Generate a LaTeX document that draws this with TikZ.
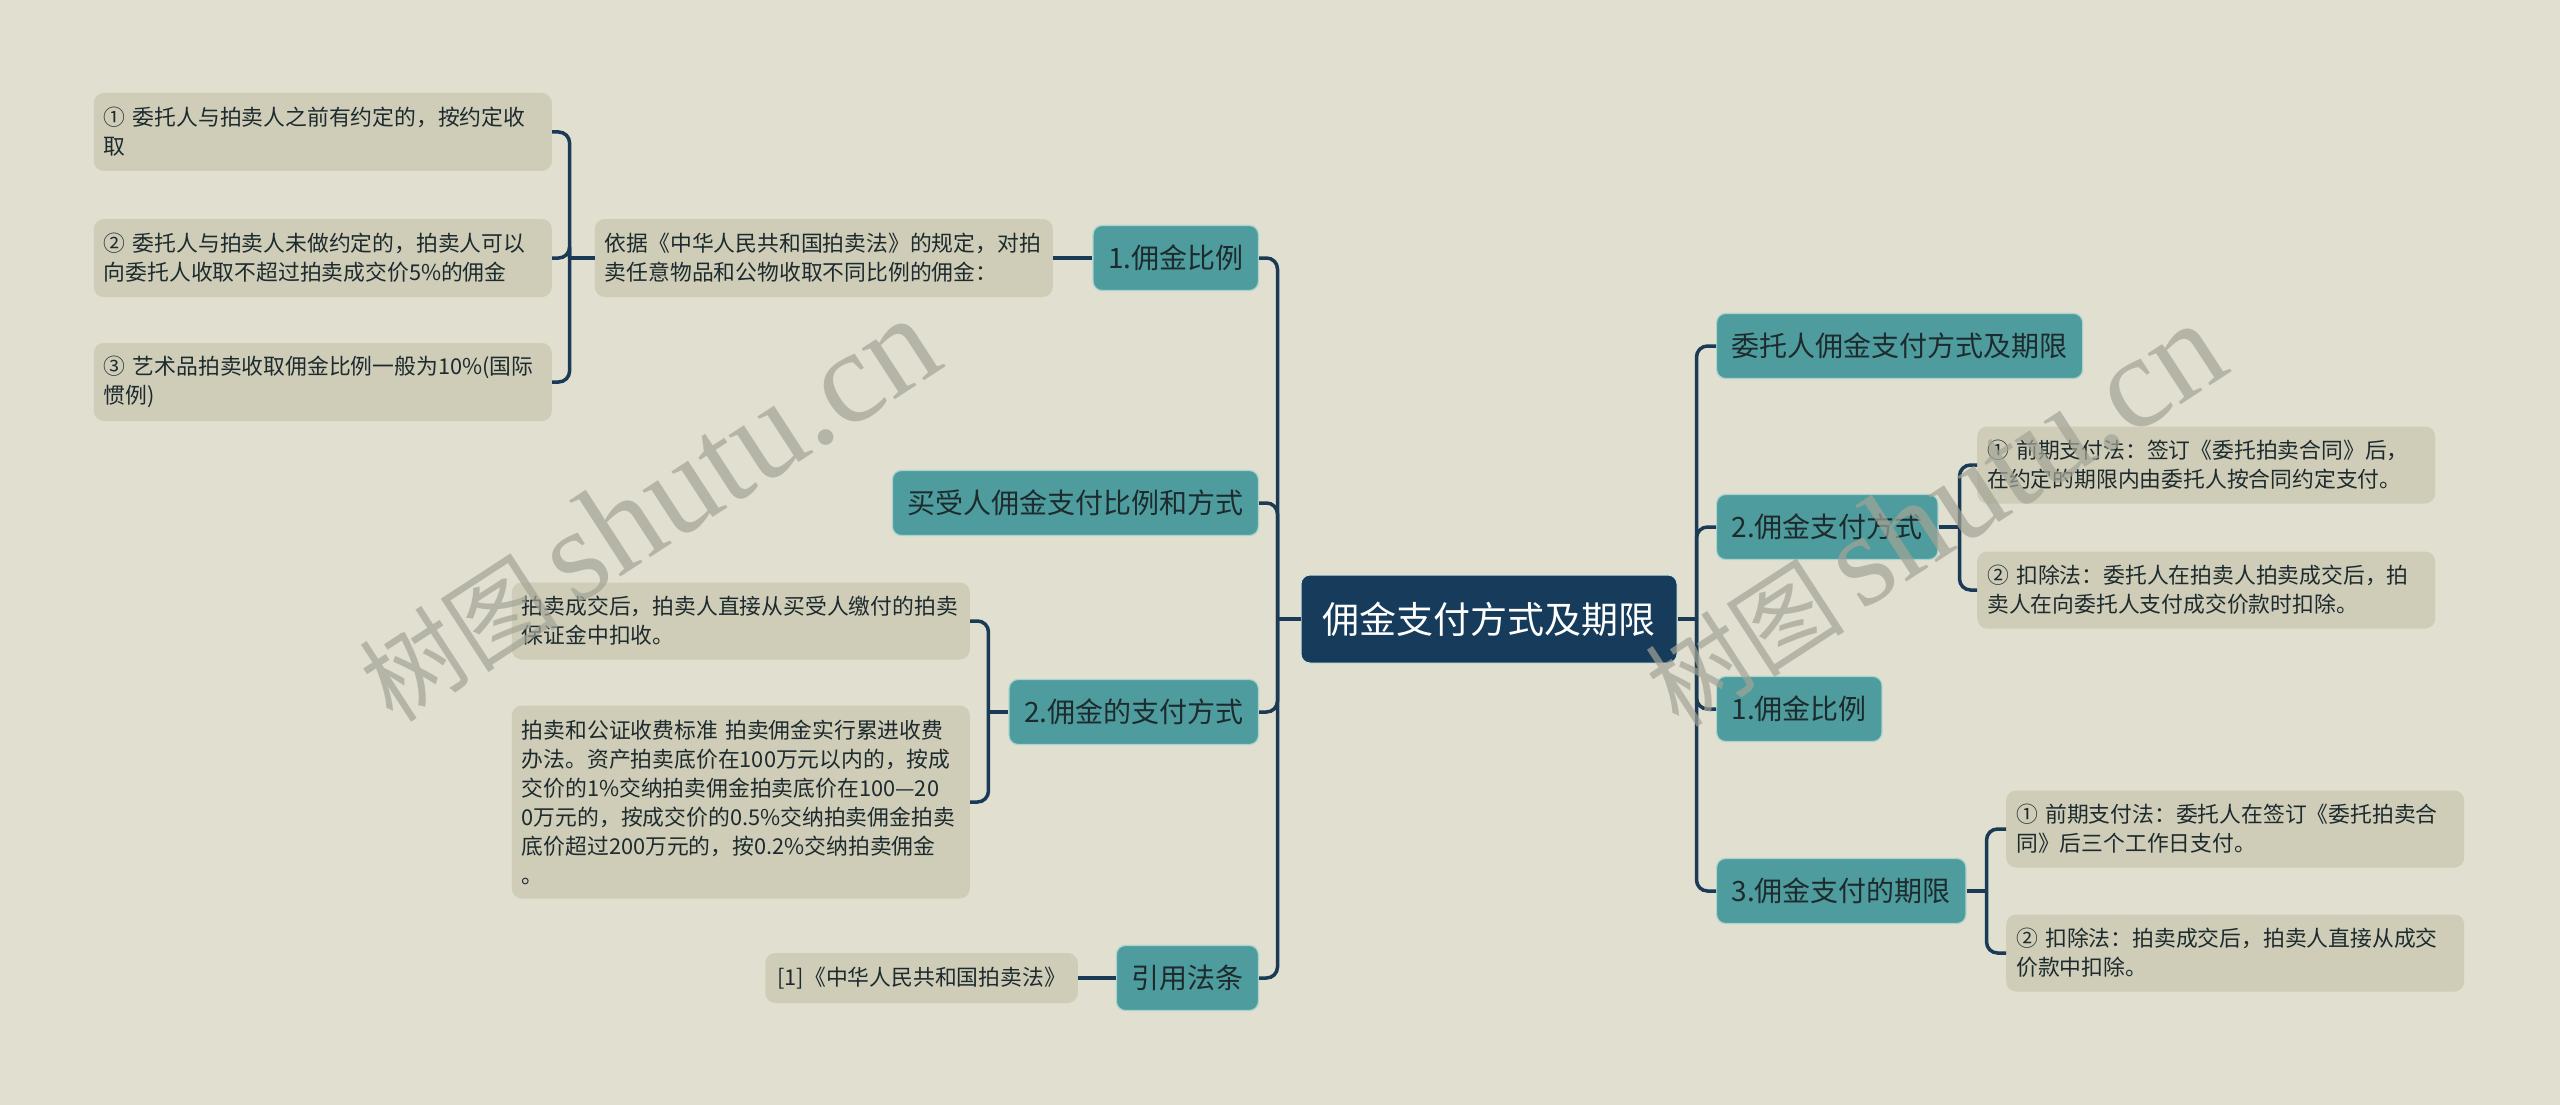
\documentclass[tikz,border=0pt]{standalone}
\usepackage{fontspec}
\setmainfont{Noto Sans CJK SC}
\newfontfamily\wmlatin{Liberation Serif}
\usetikzlibrary{calc}

\definecolor{bgcol}{HTML}{E0DFD0}
\definecolor{rootcol}{HTML}{173B5A}
\definecolor{topiccol}{HTML}{4E9C9D}
\definecolor{topicedge}{HTML}{A9D3CD}
\definecolor{leafcol}{HTML}{CFCDB8}
\definecolor{linkcol}{HTML}{1A3A56}
\definecolor{inkcol}{HTML}{1D2B2E}
\definecolor{wmcol}{HTML}{A4A497}

\tikzset{
  rootnode/.style={fill=rootcol, draw=topicedge!60!white, line width=1pt, rounded corners=9pt,
    minimum width=376pt, minimum height=88pt, text=white, font=\fontsize{37}{44}\selectfont},
  topicnode/.style={fill=topiccol, draw=topicedge, line width=1.2pt, rounded corners=9pt,
    minimum height=65pt, inner xsep=15pt, text=inkcol, font=\fontsize{28}{34}\selectfont},
  leafbox/.style={fill=leafcol, rounded corners=10pt, text=inkcol,
    font=\fontsize{21.8}{29}\selectfont},
  leafnode/.style={leafbox, text width=438pt, inner xsep=10pt, inner ysep=10pt,
    align=left, minimum height=78pt},
  link/.style={draw=linkcol, line width=3.5pt, rounded corners=11pt},
  watermark/.style={text=wmcol, opacity=0.7, rotate=33}
}

\begin{document}
\begin{tikzpicture}[x=1pt, y=-1pt]

  % canvas
  \fill[bgcol] (0,0) rectangle (2560,1105);
  \useasboundingbox (0,0) rectangle (2560,1105);

  % root
  \node[rootnode] (root) at (1489,619) {佣金支付方式及期限};

  % left topics
  \node[topicnode, anchor=east] (l1) at (1259,258) {1.佣金比例};
  \node[topicnode, anchor=east] (l2) at (1259,503) {买受人佣金支付比例和方式};
  \node[topicnode, anchor=east] (l3) at (1259,712) {2.佣金的支付方式};
  \node[topicnode, anchor=east] (l4) at (1259,978) {引用法条};

  % right topics
  \node[topicnode, anchor=west] (r1) at (1716,346) {委托人佣金支付方式及期限};
  \node[topicnode, anchor=west] (r2) at (1716,527) {2.佣金支付方式};
  \node[topicnode, anchor=west] (r3) at (1716,709) {1.佣金比例};
  \node[topicnode, anchor=west] (r4) at (1716,891) {3.佣金支付的期限};

  % leaves of 1.佣金比例
  \node[leafnode, anchor=east] (l1a) at (1053,258)
    {依据《中华人民共和国拍卖法》的规定，对拍\\卖任意物品和公物收取不同比例的佣金：};
  \node[leafnode, anchor=east] (l1a1) at (552,132)
    {① 委托人与拍卖人之前有约定的，按约定收\\取};
  \node[leafnode, anchor=east] (l1a2) at (552,258)
    {② 委托人与拍卖人未做约定的，拍卖人可以\\向委托人收取不超过拍卖成交价5\%的佣金};
  \node[leafnode, anchor=east] (l1a3) at (552,382)
    {③ 艺术品拍卖收取佣金比例一般为10\%(国际\\惯例)};

  % leaves of 2.佣金的支付方式
  \node[leafnode, anchor=east, minimum height=77pt] (l3a) at (970,621)
    {拍卖成交后，拍卖人直接从买受人缴付的拍卖\\保证金中扣收。};
  \node[leafnode, anchor=east, minimum height=193pt] (l3b) at (970,802)
    {拍卖和公证收费标准 拍卖佣金实行累进收费\\办法。资产拍卖底价在100万元以内的，按成\\交价的1\%交纳拍卖佣金拍卖底价在100—20\\0万元的，按成交价的0.5\%交纳拍卖佣金拍卖\\底价超过200万元的，按0.2\%交纳拍卖佣金\\。};

  % leaf of 引用法条
  \node[leafbox, anchor=east, minimum height=50pt, inner xsep=12pt] (l4a) at (1078,978)
    {[1]《中华人民共和国拍卖法》};

  % leaves of right topics
  \node[leafnode, anchor=west, minimum height=77pt] (r2a) at (1977,465)
    {① 前期支付法：签订《委托拍卖合同》后，\\在约定的期限内由委托人按合同约定支付。};
  \node[leafnode, anchor=west, minimum height=77pt] (r2b) at (1977,590)
    {② 扣除法：委托人在拍卖人拍卖成交后，拍\\卖人在向委托人支付成交价款时扣除。};
  \node[leafnode, anchor=west, minimum height=77pt] (r4a) at (2006,829)
    {① 前期支付法：委托人在签订《委托拍卖合\\同》后三个工作日支付。};
  \node[leafnode, anchor=west, minimum height=77pt] (r4b) at (2006,953)
    {② 扣除法：拍卖成交后，拍卖人直接从成交\\价款中扣除。};

  % connectors, left side
  \coordinate (ls) at ([xshift=-23pt]root.west);
  \draw[link] (root.west) -- (ls);
  \foreach \n in {l1,l2,l3,l4}
    \draw[link] (ls) |- (\n.east);

  \draw[link] (l1.west) -- (l1a.east);
  \coordinate (ks) at ([xshift=-25pt]l1a.west);
  \draw[link] (l1a.west) -- (ks);
  \foreach \n in {l1a1,l1a2,l1a3}
    \draw[link] (ks) |- (\n.east);

  \coordinate (ms) at ([xshift=-20pt]l3.west);
  \draw[link] (l3.west) -- (ms);
  \foreach \n in {l3a,l3b}
    \draw[link] (ms) |- (\n.east);

  \draw[link] (l4.west) -- (l4a.east);

  % connectors, right side
  \coordinate (rs) at ([xshift=19pt]root.east);
  \draw[link] (root.east) -- (rs);
  \foreach \n in {r1,r2,r3,r4}
    \draw[link] (rs) |- (\n.west);

  \coordinate (ps) at ([xshift=21pt]r2.east);
  \draw[link] (r2.east) -- (ps);
  \foreach \n in {r2a,r2b}
    \draw[link] (ps) |- (\n.west);

  \coordinate (qs) at ([xshift=20pt]r4.east);
  \draw[link] (r4.east) -- (qs);
  \foreach \n in {r4a,r4b}
    \draw[link] (qs) |- (\n.west);

  % watermarks
  \node[watermark] (wm1) at (648,510)
    {\fontsize{100}{105}\selectfont 树图\,\wmlatin\fontsize{132}{136}\selectfont shutu.cn};
  \node[watermark] (wm2) at (1934,515)
    {\fontsize{100}{105}\selectfont 树图\,\wmlatin\fontsize{132}{136}\selectfont shutu.cn};

\end{tikzpicture}
\end{document}
